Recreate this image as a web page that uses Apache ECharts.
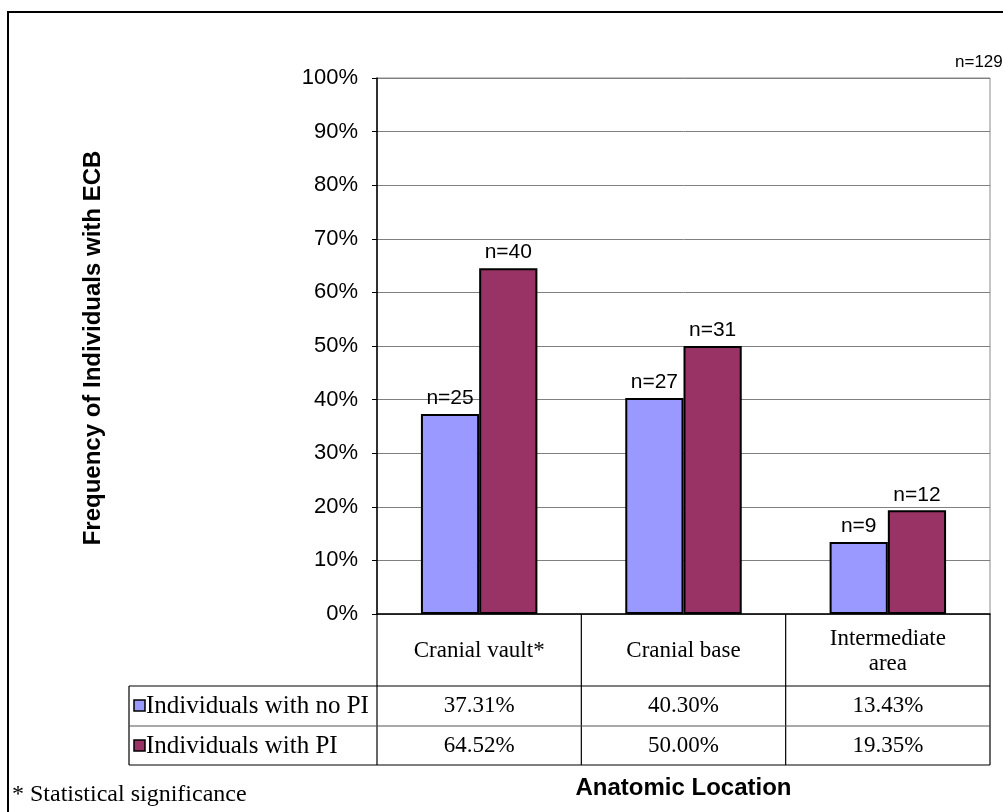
<!DOCTYPE html>
<html>
<head>
<meta charset="utf-8">
<script src="https://cdn.jsdelivr.net/npm/echarts@6/dist/echarts.min.js"></script>
<style>
  html, body { margin: 0; padding: 0; background: #fff; }
  #chart { width: 1003px; height: 812px; }
</style>
</head>
<body>
<div id="chart"></div>
<script>
// Anatomic locations (x categories)
const categories = ['Cranial vault*', 'Cranial base', 'Intermediate\narea'];
// Series names (also the data-table row headers)
const seriesNames = ['Individuals with no PI', 'Individuals with PI'];
// Frequencies in percent
const noPI = [37.31, 40.30, 13.43];
const withPI = [64.52, 50.00, 19.35];
// Counts printed above the bars
const noPICounts = ['n=25', 'n=27', 'n=9'];
const withPICounts = ['n=40', 'n=31', 'n=12'];
const totalLabel = 'n=129';
const colors = ['#9999FF', '#993366'];

const SERIF = '"Liberation Serif", "Times New Roman", serif';
const SANS = '"Liberation Sans", Arial, sans-serif';

const chart = echarts.init(document.getElementById('chart'), null, { renderer: 'canvas' });

function barSeries(name, values, counts, color) {
  return {
    name: name,
    type: 'bar',
    data: values,
    barGap: '0%',
    barCategoryGap: '43%',
    itemStyle: { color: color, borderColor: '#000', borderWidth: 2 },
    label: {
      show: true,
      position: 'top',
      distance: 5,
      formatter: p => counts[p.dataIndex],
      fontFamily: SANS,
      fontSize: 21,
      color: '#000'
    },
    animation: false
  };
}

chart.setOption({
  animation: false,
  grid: {
    left: 377, right: 13, top: 78, bottom: 198,
    show: true, borderColor: '#8a8a8a', borderWidth: 1
  },
  xAxis: {
    type: 'category',
    data: categories,
    axisLine: { lineStyle: { color: '#000', width: 1.5 } },
    axisTick: { show: false },
    axisLabel: {
      fontFamily: SERIF, fontSize: 23, color: '#000',
      verticalAlign: 'middle', margin: 37, lineHeight: 25
    },
    splitLine: { show: false }
  },
  yAxis: {
    type: 'value',
    min: 0, max: 100, interval: 10,
    axisLine: { show: true, lineStyle: { color: '#000', width: 1.5 } },
    axisTick: { show: true, length: 5, lineStyle: { color: '#000' } },
    axisLabel: {
      formatter: '{value}%', fontFamily: SANS, fontSize: 22, color: '#000', margin: 19
    },
    splitLine: { lineStyle: { color: '#808080', width: 1 } }
  },
  series: [
    barSeries(seriesNames[0], noPI, noPICounts, colors[0]),
    barSeries(seriesNames[1], withPI, withPICounts, colors[1])
  ]
});

// Data table under the plot, laid out from the category axis positions
const centers = categories.map((c, i) => chart.convertToPixel({ xAxisIndex: 0 }, i));
const band = centers[1] - centers[0];
const edges = [centers[0] - band / 2].concat(centers.map(c => c + band / 2));
const yBase = chart.convertToPixel({ yAxisIndex: 0 }, 0);
const headerH = 72, rowH = 40;
const rowTops = [yBase + headerH, yBase + headerH + rowH];
const tableBottom = yBase + headerH + 2 * rowH - 1;
const tableLeft = 129;
const rows = [noPI, withPI];

const g = [];
const line = (x1, y1, x2, y2, color) => g.push({
  type: 'line', shape: { x1, y1, x2, y2 },
  style: { stroke: color || '#000', lineWidth: 1.2 }, silent: true
});

// vertical rules
edges.forEach(x => line(x, yBase, x, tableBottom));
line(tableLeft, rowTops[0], tableLeft, tableBottom);
// horizontal rules
line(tableLeft, rowTops[0], edges[3], rowTops[0]);
line(tableLeft, rowTops[1], edges[3], rowTops[1], '#555');
line(tableLeft, tableBottom, edges[3], tableBottom);

rows.forEach((vals, r) => {
  const cy = rowTops[r] + rowH / 2;
  // legend key
  g.push({
    type: 'rect', shape: { x: 134, y: cy - 6, width: 11, height: 11 },
    style: { fill: colors[r], stroke: '#000', lineWidth: 1.5 }, silent: true
  });
  g.push({
    type: 'text', x: 146, y: cy,
    style: { text: seriesNames[r], font: '25px ' + SERIF, fill: '#000', verticalAlign: 'middle', align: 'left' },
    silent: true
  });
  vals.forEach((v, i) => {
    g.push({
      type: 'text', x: centers[i], y: cy,
      style: { text: v.toFixed(2) + '%', font: '23px ' + SERIF, fill: '#000', verticalAlign: 'middle', align: 'center' },
      silent: true
    });
  });
});

// titles and notes
g.push({
  type: 'text', x: 93, y: 348, rotation: Math.PI / 2,
  style: { text: 'Frequency of Individuals with ECB', font: 'bold 24px ' + SANS, fill: '#000', align: 'center', verticalAlign: 'middle' },
  silent: true
});
g.push({
  type: 'text', x: (edges[0] + edges[3]) / 2, y: 788,
  style: { text: 'Anatomic Location', font: 'bold 24px ' + SANS, fill: '#000', align: 'center', verticalAlign: 'middle' },
  silent: true
});
g.push({
  type: 'text', x: 12, y: 795,
  style: { text: '* Statistical significance', font: '24px ' + SERIF, fill: '#000', align: 'left', verticalAlign: 'middle' },
  silent: true
});
g.push({
  type: 'text', x: 955, y: 62,
  style: { text: totalLabel, font: '17px ' + SANS, fill: '#000', align: 'left', verticalAlign: 'middle' },
  silent: true
});
// outer chart frame
g.push({
  type: 'rect', shape: { x: 8, y: 12, width: 1100, height: 900 },
  style: { fill: 'none', stroke: '#000', lineWidth: 2 }, silent: true
});

chart.setOption({ graphic: g });
</script>
</body>
</html>
